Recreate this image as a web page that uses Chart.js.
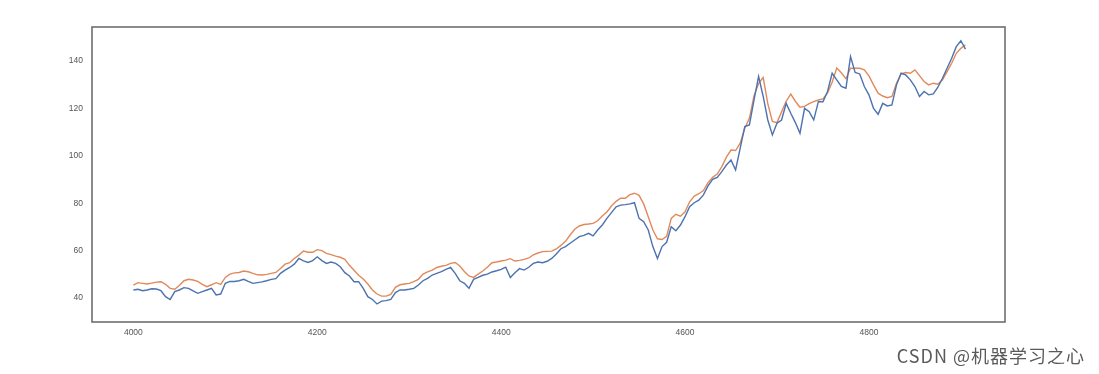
<!DOCTYPE html>
<html>
<head>
<meta charset="utf-8">
<script src="https://cdn.jsdelivr.net/npm/chart.js@4.4.0/dist/chart.umd.min.js"></script>
<style>
  html, body { margin: 0; padding: 0; background: #fff; }
  #wrap { position: relative; width: 1099px; height: 374px; }
  #watermark {
    position: absolute; right: 14px; top: 342px;
    font-family: "Noto Sans CJK SC", "Noto Sans", sans-serif;
    font-size: 18px; letter-spacing: 1px; color: #5a5a5a; white-space: nowrap;
  }
</style>
</head>
<body>
<div id="wrap">
  <canvas id="chart" width="1099" height="374"></canvas>
  <div id="watermark">CSDN @机器学习之心</div>
</div>
<script>
// x positions: one reading every 5 steps, from 4000
const startDay = 4000;
const stepDay = 5;

// real values (blue)
const actualValues = [
  43.4, 43.7, 43.1, 43.4, 43.9, 43.8, 43.1, 40.6, 39.4, 42.7,
  43.4, 44.4, 44.1, 43.0, 42.0, 42.7, 43.4, 44.1, 41.3, 41.7,
  46.2, 47.0, 47.0, 47.3, 47.9, 47.0, 46.2, 46.5, 46.8, 47.3,
  47.9, 48.2, 50.4, 51.8, 52.9, 54.3, 56.7, 55.7, 55.0,
  55.8, 57.4, 55.8, 54.6, 55.2, 54.6, 53.2, 50.7, 49.3, 46.9,
  46.9, 44.1, 40.6, 39.4, 37.5, 38.7, 38.9, 39.4, 42.3, 43.4,
  43.4, 43.7, 44.1, 45.5, 47.3, 48.3, 49.7, 50.4, 51.1, 52.1,
  52.9, 50.4, 47.3, 46.2, 44.1, 47.9, 48.7, 49.6, 50.1,
  51.0, 51.5, 52.1, 53.0, 48.7, 50.7, 52.4, 51.8, 53.0, 54.6,
  55.2, 54.9, 55.5, 56.7, 58.6, 60.8, 61.7, 63.1, 64.5, 65.9,
  66.4, 67.3, 66.2, 68.7, 70.8, 73.6, 76.0, 78.5, 79.2, 79.4,
  79.7, 80.2, 73.6, 72.2, 68.7, 61.7, 56.7, 61.7, 63.5,
  70.1, 68.4, 70.8, 74.3, 78.5, 80.2, 81.3, 83.5, 87.3, 90.1,
  90.9, 93.3, 96.1, 98.2, 94.0, 103.2, 112.3, 113.0, 123.5, 133.5,
  125.0, 115.1, 108.8, 113.7, 115.1, 122.1, 117.9, 114.0, 109.5, 120.0,
  118.6, 115.1, 122.8, 122.8, 127.1, 134.8, 132.0, 129.2, 128.5,
  141.8, 135.1, 134.5, 129.2, 125.7, 120.0, 117.5, 122.1, 121.0, 121.4,
  129.9, 134.8, 134.1, 132.0, 129.2, 125.0, 127.1, 125.7, 126.1, 128.9,
  132.7, 136.9, 141.1, 146.0, 148.5, 145.0
];

// smoothed values (orange)
const smoothValues = [
  45.5, 46.5, 46.2, 45.9, 46.3, 46.7, 46.9, 45.8, 44.1, 43.7,
  45.3, 47.3, 47.9, 47.6, 47.0, 45.8, 44.8, 45.6, 46.5, 45.8,
  48.7, 50.1, 50.6, 50.8, 51.4, 51.1, 50.4, 49.8, 49.7, 50.0,
  50.4, 50.8, 52.5, 54.3, 54.9, 56.7, 58.1, 59.8, 59.3,
  59.3, 60.4, 60.0, 58.8, 58.3, 57.7, 57.2, 56.3, 53.8, 51.7,
  49.6, 48.0, 45.9, 43.4, 41.7, 40.8, 40.8, 41.5, 44.5, 45.6,
  45.9, 46.2, 46.9, 47.9, 50.1, 51.0, 51.8, 52.9, 53.4, 53.8,
  54.6, 55.0, 53.5, 51.2, 49.3, 48.7, 50.1, 51.4, 53.0,
  54.9, 55.2, 55.6, 56.0, 56.6, 55.6, 55.9, 56.3, 56.9, 58.2,
  59.0, 59.6, 59.7, 59.8, 60.7, 62.2, 63.9, 66.6, 69.0, 70.4,
  71.0, 71.2, 71.5, 72.6, 74.6, 76.3, 78.8, 80.8, 82.1, 82.1,
  83.6, 84.2, 83.3, 79.7, 74.3, 68.7, 65.0, 64.7, 66.0,
  73.6, 75.3, 74.5, 76.4, 80.6, 83.0, 84.0, 85.3, 88.7, 90.9,
  92.3, 95.4, 99.4, 102.4, 102.2, 105.3, 111.6, 115.8, 125.2, 130.5,
  133.0, 122.0, 114.5, 114.0, 118.5, 123.0, 126.0, 123.0, 120.5, 120.8,
  122.0, 122.8, 123.5, 124.0, 126.5, 131.0, 137.0, 135.0, 132.5,
  136.9, 136.9, 136.9, 136.2, 133.7, 129.9, 126.4, 125.2, 124.5, 125.0,
  130.6, 134.5, 135.1, 134.8, 136.2, 133.8, 131.3, 129.9, 130.6, 130.2,
  132.0, 135.5, 139.0, 143.2, 145.3, 146.8
];

const xTicks = [4000, 4200, 4400, 4600, 4800];
const yTicks = [40, 60, 80, 100, 120, 140];

function toPoints(values){
  return values.map((v, i) => ({ x: startDay + i * stepDay, y: v }));
}

// рамка вокруг области графика
const framePlugin = {
  id: 'frame',
  afterDraw(chart){
    const a = chart.chartArea;
    const c = chart.ctx;
    c.save();
    c.strokeStyle = '#6e6e6e';
    c.lineWidth = 1.6;
    c.strokeRect(a.left, a.top, a.right - a.left, a.bottom - a.top);
    c.restore();
  }
};

const tickFont = { family: 'Liberation Sans', size: 8.5 };

let ctx = document.getElementById('chart').getContext('2d');
let myChart = new Chart(ctx, {
  type: 'line',
  data: {
    datasets: [{
      label: 'actual',
      data: toPoints(actualValues),
      borderColor: '#4c72b0',
      borderWidth: 1.4,
      pointRadius: 0,
      tension: 0
    }, {
      label: 'smooth',
      data: toPoints(smoothValues),
      borderColor: '#e08a5c',
      borderWidth: 1.4,
      pointRadius: 0,
      tension: 0
    }]
  },
  options: {
    responsive: false,
    animation: false,
    layout: { padding: { top: 27, right: 94, left: 0, bottom: 0 } },
    plugins: { legend: { display: false }, tooltip: { enabled: false } },
    scales: {
      x: {
        type: 'linear',
        min: 3955,
        max: 4948,
        afterBuildTicks: scale => { scale.ticks = xTicks.map(v => ({ value: v })); },
        afterFit: scale => { scale.height = 52; },
        grid: { display: false, drawTicks: false },
        border: { display: false },
        ticks: { color: '#555', font: tickFont, padding: 6, maxRotation: 0, callback: v => String(v) }
      },
      y: {
        min: 29.9,
        max: 154.3,
        afterBuildTicks: scale => { scale.ticks = yTicks.map(v => ({ value: v })); },
        afterFit: scale => { scale.width = 92; },
        grid: { display: false, drawTicks: false },
        border: { display: false },
        ticks: { color: '#555', font: tickFont, padding: 9, callback: v => String(v) }
      }
    }
  },
  plugins: [framePlugin]
});
</script>
</body>
</html>
